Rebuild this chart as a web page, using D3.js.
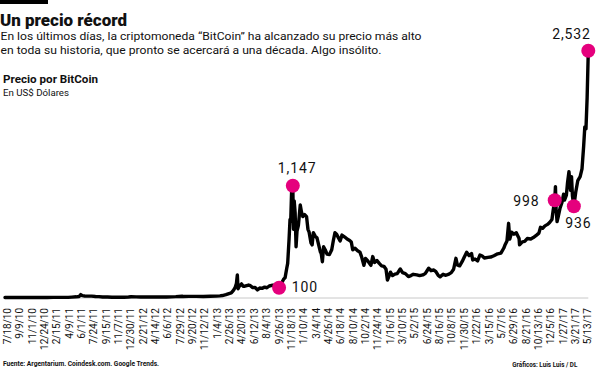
<!DOCTYPE html>
<html lang="es">
<head>
<meta charset="UTF-8">
<title>Un precio récord</title>
<script src="https://d3js.org/d3.v7.min.js"></script>
<style>
  body { margin: 0; background: #fff; }
  svg { display: block; font-family: Roboto, "Noto Sans", sans-serif; }
</style>
</head>
<body>
<div id="chart"></div>
<script>
// precio de cierre aproximado (US$)
const dates = [
  "2010-07-18","2010-09-01","2010-10-15","2010-11-08","2010-12-15",
  "2011-01-15","2011-02-10","2011-03-15","2011-04-15","2011-05-01","2011-05-20","2011-06-01","2011-06-08","2011-06-15","2011-06-25",
  "2011-07-10","2011-07-25","2011-08-10","2011-08-25","2011-09-10","2011-10-01","2011-10-20","2011-11-15","2011-12-10","2011-12-30",
  "2012-01-10","2012-02-01","2012-02-20","2012-03-15","2012-04-15","2012-05-15","2012-06-10","2012-07-01","2012-07-20","2012-08-16",
  "2012-08-20","2012-09-15","2012-10-15","2012-11-15","2012-12-15",
  "2013-01-10","2013-01-25","2013-02-05","2013-02-20","2013-03-05","2013-03-15","2013-03-25","2013-04-01","2013-04-06","2013-04-10",
  "2013-04-13","2013-04-17","2013-04-22","2013-04-28","2013-05-05","2013-05-12","2013-05-20","2013-05-28","2013-06-05","2013-06-15",
  "2013-06-25","2013-07-05","2013-07-15","2013-07-25","2013-08-05","2013-08-15","2013-08-25","2013-09-05","2013-09-15","2013-09-25",
  "2013-10-06","2013-10-15","2013-10-25","2013-11-01","2013-11-08","2013-11-12","2013-11-18","2013-11-22","2013-11-25","2013-11-29",
  "2013-12-04","2013-12-07","2013-12-10","2013-12-14","2013-12-18","2013-12-22","2013-12-28",
  "2014-01-05","2014-01-10","2014-01-16","2014-01-24","2014-02-01","2014-02-07","2014-02-12","2014-02-20","2014-02-25","2014-03-02",
  "2014-03-10","2014-03-18","2014-03-25","2014-04-01","2014-04-05","2014-04-10","2014-04-15","2014-04-22","2014-04-30","2014-05-10",
  "2014-05-20","2014-05-27","2014-06-03","2014-06-10","2014-06-18","2014-06-25","2014-07-03","2014-07-15","2014-07-25","2014-08-05",
  "2014-08-12","2014-08-18","2014-08-28","2014-09-08","2014-09-18","2014-09-25","2014-10-05","2014-10-12","2014-10-22","2014-11-04",
  "2014-11-12","2014-11-20","2014-11-30","2014-12-10","2014-12-20","2014-12-30",
  "2015-01-08","2015-01-14","2015-01-20","2015-01-27","2015-02-05","2015-02-15","2015-02-25","2015-03-10","2015-03-20","2015-04-01",
  "2015-04-14","2015-04-25","2015-05-05","2015-05-20","2015-06-01","2015-06-15","2015-06-25","2015-07-10","2015-07-20","2015-08-01",
  "2015-08-10","2015-08-20","2015-08-28","2015-09-10","2015-09-22","2015-10-05","2015-10-15","2015-10-25","2015-11-04","2015-11-10",
  "2015-11-20","2015-12-01","2015-12-10","2015-12-20","2015-12-30",
  "2016-01-10","2016-01-15","2016-01-25","2016-02-05","2016-02-15","2016-02-25","2016-03-05","2016-03-20","2016-04-01","2016-04-15",
  "2016-05-01","2016-05-15","2016-05-27","2016-06-01","2016-06-10","2016-06-17","2016-06-22","2016-06-30","2016-07-10","2016-07-20",
  "2016-08-01","2016-08-03","2016-08-15","2016-08-25","2016-09-05","2016-09-20","2016-10-01","2016-10-15","2016-10-25","2016-11-01",
  "2016-11-10","2016-11-20","2016-12-01","2016-12-10","2016-12-20","2016-12-25",
  "2017-01-01","2017-01-04","2017-01-07","2017-01-11","2017-01-16","2017-01-24","2017-02-01","2017-02-08","2017-02-12","2017-02-20",
  "2017-02-25","2017-03-03","2017-03-10","2017-03-14","2017-03-18","2017-03-24","2017-04-01","2017-04-10","2017-04-20","2017-04-28",
  "2017-05-05","2017-05-10","2017-05-15","2017-05-20","2017-05-25"
];
const prices = [
  0.09,0.06,0.1,0.3,0.25,
  0.4,1,0.9,1.2,3.5,7,10,30,19,16,
  14,14,10,9,5,5,2.5,2.3,3,4.7,
  7,6,4.5,5,5,5,5.6,6.7,8.5,13,
  10,11.5,11.8,11,13.4,
  14,17,20,29,40,47,75,105,143,231,
  90,110,125,140,115,116,122,128,121,101,
  104,78,97,94,106,100,118,125,126,124,
  110,140,185,204,300,350,600,800,780,1100,
  1147,700,990,870,521,680,740,
  949,880,830,850,830,700,670,560,540,665,
  630,610,540,470,450,367,520,490,445,440,
  490,585,665,650,610,580,640,620,600,585,
  570,490,505,480,465,420,330,400,375,330,
  420,360,380,350,325,320,
  290,178,215,260,225,240,245,292,255,245,
  215,225,238,232,224,232,245,300,275,282,
  265,226,212,238,228,240,255,290,402,335,
  325,370,415,463,430,
  450,385,395,375,436,425,405,412,415,428,
  448,455,505,535,580,761,600,670,650,665,
  605,540,570,575,605,600,615,640,660,720,
  710,735,750,770,800,890,
  998,1137,900,778,830,920,975,1060,1000,1050,
  1180,1290,1100,1240,1040,936,1080,1200,1240,1320,
  1550,1750,1730,2050,2532
];

const tickLabels = [
  "7/18/10","9/9/10","11/1/10","12/24/10","2/15/11","4/9/11","6/1/11","7/24/11","9/15/11","11/7/11",
  "12/30/11","2/21/12","4/14/12","6/6/12","7/29/12","9/20/12","11/12/12","1/4/13","2/26/13","4/20/13",
  "6/12/13","8/4/13","9/26/13","11/18/13","1/10/14","3/4/14","4/26/14","6/18/14","8/10/14","10/2/14",
  "11/24/14","1/16/15","3/10/15","5/2/15","6/24/15","8/16/15","10/8/15","11/30/15","1/22/16","3/15/16",
  "5/7/16","6/29/16","8/21/16","10/13/16","12/5/16","1/27/17","3/21/17","5/13/17"
];

// puntos destacados
const markDates = ["2013-10-06","2013-12-04","2017-01-01","2017-03-24","2017-05-25"];
const markValues = [100, 1147, 998, 936, 2532];
const markLabels = ["100", "1,147", "998", "936", "2,532"];

const width = 600, height = 373;
const parse = d3.timeParse("%Y-%m-%d");
const parseTick = d3.timeParse("%m/%d/%y");

const data = dates.map((d, i) => ({date: parse(d), value: prices[i]}));
const marks = markDates.map((d, i) => ({date: parse(d), value: markValues[i], label: markLabels[i]}));

const x = d3.scaleTime()
    .domain([parse("2010-07-18"), parse("2017-05-25")])
    .range([5, 588.3]);
const y = d3.scaleLinear()
    .domain([0, 2532])
    .range([297.5, 50.7]);

const svg = d3.select("#chart").append("svg")
    .attr("width", width)
    .attr("height", height);

// cabecera
svg.append("rect").attr("x", 0).attr("y", 0).attr("width", 48).attr("height", 4).attr("fill", "#000");

function txt(s, px, py, size, weight, len) {
  const t = svg.append("text")
      .attr("x", px).attr("y", py)
      .attr("font-size", size)
      .attr("font-weight", weight)
      .attr("fill", "#111")
      .text(s);
  if (len) t.attr("textLength", len).attr("lengthAdjust", "spacingAndGlyphs");
  return t;
}

txt("Un precio récord", 0, 25.7, 17, 900, 127);
txt("En los últimos días, la criptomoneda \u201cBitCoin\u201d ha alcanzado su precio más alto", 0.5, 40, 11.8, 400, 421);
txt("en toda su historia, que pronto se acercará a una década. Algo insólito.", 0.5, 54.3, 11.8, 400, 381);
txt("Precio por BitCoin", 3, 83.3, 10.5, 700, 95);
txt("En US$ Dólares", 3, 95.7, 9.5, 400, 66);
txt("Fuente: Argentarium. Coindesk.com. Google Trends.", 3, 365.5, 8, 700, 156);
txt("Gráficos: Luis Luis / DL", 512.3, 367, 8, 700, 65);

// línea base
svg.append("line")
    .attr("x1", x.range()[0]).attr("x2", x.range()[1])
    .attr("y1", y(0) + 0.5).attr("y2", y(0) + 0.5)
    .attr("stroke", "#c8c8c8")
    .attr("stroke-width", 1);

// eje x
const axis = svg.append("g")
    .attr("transform", `translate(0,${y(0)})`)
    .call(d3.axisBottom(x)
        .tickValues(tickLabels.map(parseTick))
        .tickSize(0)
        .tickFormat((d, i) => tickLabels[i]));
axis.select(".domain").remove();
axis.selectAll("text")
    .attr("transform", "rotate(-90)")
    .attr("text-anchor", "end")
    .attr("x", -10.5)
    .attr("y", 5.3)
    .attr("dy", 0)
    .attr("font-family", "Roboto, sans-serif")
    .attr("font-size", 10)
    .attr("fill", "#111");

// serie
const line = d3.line()
    .x(d => x(d.date))
    .y(d => y(d.value));

svg.append("path")
    .datum(data)
    .attr("fill", "none")
    .attr("stroke", "#000")
    .attr("stroke-width", 3.4)
    .attr("stroke-linejoin", "round")
    .attr("stroke-linecap", "round")
    .attr("d", line);

// marcadores
svg.selectAll("circle.mark")
    .data(marks)
    .enter().append("circle")
    .attr("class", "mark")
    .attr("cx", d => x(d.date))
    .attr("cy", d => y(d.value))
    .attr("r", 7)
    .attr("fill", "#e5007d");

// posición de cada etiqueta respecto a su punto
const labelPos = [
  {dx: 12.7, dy: 4, anchor: "start"},
  {dx: 4.3, dy: -12.4, anchor: "middle"},
  {dx: -15.3, dy: 6, anchor: "end"},
  {dx: 4.6, dy: 21.6, anchor: "middle"},
  {dx: -16.8, dy: -11.4, anchor: "middle"}
];

svg.selectAll("text.mark")
    .data(marks)
    .enter().append("text")
    .attr("class", "mark")
    .attr("x", (d, i) => x(d.date) + labelPos[i].dx)
    .attr("y", (d, i) => y(d.value) + labelPos[i].dy)
    .attr("text-anchor", (d, i) => labelPos[i].anchor)
    .attr("font-size", 14)
    .attr("letter-spacing", 0.9)
    .attr("fill", "#111")
    .text(d => d.label);
</script>
</body>
</html>
